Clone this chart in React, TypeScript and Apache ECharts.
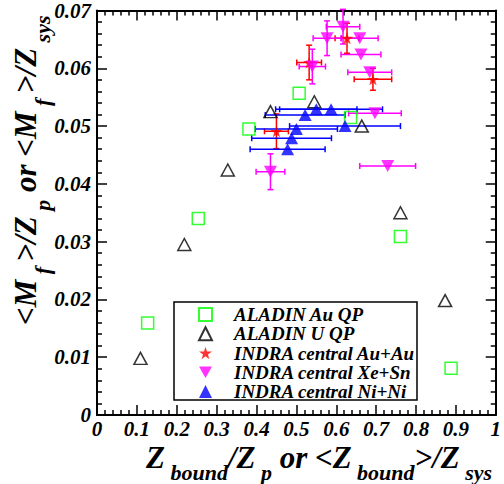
import React, { useEffect, useRef } from "react";
import * as echarts from "echarts";

// ---- data ----
const aladinAuX = [0.127, 0.254, 0.381, 0.507, 0.636, 0.761, 0.888];
const aladinAuY = [0.0159, 0.034, 0.0495, 0.0557, 0.0515, 0.0309, 0.0081];

const aladinUX = [0.109, 0.219, 0.328, 0.435, 0.545, 0.664, 0.761, 0.873];
const aladinUY = [0.0098, 0.0295, 0.0424, 0.0525, 0.0542, 0.05, 0.035, 0.0198];

const auX = [0.45, 0.532, 0.627, 0.692];
const auY = [0.0491, 0.061, 0.0652, 0.0581];
const auXErr = [0.03, 0.031, 0.03, 0.047];
const auYErr = [0.003, 0.003, 0.0026, 0.0019];

const xeX = [0.435, 0.54, 0.577, 0.617, 0.659, 0.662, 0.684, 0.697, 0.729];
const xeY = [0.0421, 0.0603, 0.0652, 0.0672, 0.0652, 0.0624, 0.0593, 0.0522, 0.0431];
const xeXErr = [0.036, 0.033, 0.035, 0.042, 0.046, 0.05, 0.055, 0.066, 0.07];
const xeYErr = [0.0031, 0.003, 0.003, 0.003, 0, 0, 0, 0, 0];

const niX = [0.478, 0.488, 0.5, 0.522, 0.55, 0.587, 0.622];
const niY = [0.046, 0.0479, 0.0495, 0.0519, 0.0529, 0.0529, 0.05];
const niXErr = [0.094, 0.1, 0.103, 0.1, 0.102, 0.129, 0.139];
const niYErr = [0, 0, 0, 0, 0, 0, 0];

const legendNames = [
  "ALADIN Au QP",
  "ALADIN U QP",
  "INDRA central Au+Au",
  "INDRA central Xe+Sn",
  "INDRA central Ni+Ni",
];

const FONT = "Liberation Serif";
const STAR = "path://M50,0 L61,35 L98,35 L68,57 L79,91 L50,70 L21,91 L32,57 L2,35 L39,35 Z";
const DOWN_TRI = "path://M0,0 L10,0 L5,9 Z";

function pts(xs: number[], ys: number[]) {
  return xs.map((x, i) => [x, ys[i]]);
}
function errPts(xs: number[], ys: number[], xe: number[], ye: number[]) {
  return xs.map((x, i) => [x, ys[i], xe[i], ye[i]]);
}

function errSeries(name: string, data: number[][], color: string) {
  return {
    type: "custom",
    name,
    data,
    encode: { x: 0, y: 1 },
    clip: false,
    renderItem: (params: any, api: any) => {
      const x = api.value(0);
      const y = api.value(1);
      const xe = api.value(2);
      const ye = api.value(3);
      const cap = 3;
      const st = { stroke: color, lineWidth: 1.5 };
      const children: any[] = [];
      if (xe > 0) {
        const a = api.coord([x - xe, y]);
        const b = api.coord([x + xe, y]);
        children.push({ type: "line", shape: { x1: a[0], y1: a[1], x2: b[0], y2: b[1] }, style: st });
        children.push({ type: "line", shape: { x1: a[0], y1: a[1] - cap, x2: a[0], y2: a[1] + cap }, style: st });
        children.push({ type: "line", shape: { x1: b[0], y1: b[1] - cap, x2: b[0], y2: b[1] + cap }, style: st });
      }
      if (ye > 0) {
        const a = api.coord([x, y - ye]);
        const b = api.coord([x, y + ye]);
        children.push({ type: "line", shape: { x1: a[0], y1: a[1], x2: b[0], y2: b[1] }, style: st });
        children.push({ type: "line", shape: { x1: a[0] - cap, y1: a[1], x2: a[0] + cap, y2: a[1] }, style: st });
        children.push({ type: "line", shape: { x1: b[0] - cap, y1: b[1], x2: b[0] + cap, y2: b[1] }, style: st });
      }
      return { type: "group", children };
    },
    z: 2,
  };
}

export default function App() {
  const ref = useRef<HTMLDivElement>(null);
  useEffect(() => {
    if (!ref.current) return;
    const chart = echarts.init(ref.current, undefined, { renderer: "svg" });
    const tickLabel = {
      fontFamily: FONT,
      fontWeight: "bold" as const,
      fontStyle: "italic" as const,
      fontSize: 21,
      lineHeight: 17,
      color: "#000",
    };
    const axisLine = { show: true, onZero: false, lineStyle: { color: "#000", width: 2 } };
    const axisTick = { show: true, inside: true, length: 10, lineStyle: { color: "#000", width: 1.5 } };
    const minorTick = { show: true, splitNumber: 5, length: 5, lineStyle: { color: "#000", width: 1.5 } };

    const m = { fontFamily: FONT, fontWeight: "bold", fontStyle: "italic", fontSize: 31, color: "#000", lineHeight: 33, verticalAlign: "top" };
    const s = {
      fontFamily: FONT, fontWeight: "bold", fontStyle: "italic", fontSize: 22, color: "#000",
      lineHeight: 30, verticalAlign: "top", padding: [19, 0, 0, 0],
    };
    const sy = { ...s, padding: [21, 0, 0, 0] };

    chart.setOption({
      animation: false,
      backgroundColor: "#fff",
      grid: { left: 97, right: 5, top: 9, bottom: 69, containLabel: false },
      xAxis: [
        {
          type: "value", min: 0, max: 1, interval: 0.1, position: "bottom",
          axisLine, axisTick, minorTick, splitLine: { show: false },
          axisLabel: { ...tickLabel, margin: 5 },
        },
        {
          type: "value", min: 0, max: 1, interval: 0.1, position: "top",
          axisLine, axisTick, minorTick, splitLine: { show: false },
          axisLabel: { show: false },
        },
      ],
      yAxis: [
        {
          type: "value", min: 0, max: 0.07, interval: 0.01, position: "left",
          axisLine, axisTick, minorTick, splitLine: { show: false },
          axisLabel: { ...tickLabel, margin: 6 },
        },
        {
          type: "value", min: 0, max: 0.07, interval: 0.01, position: "right",
          axisLine, axisTick, minorTick, splitLine: { show: false },
          axisLabel: { show: false },
        },
      ],
      legend: {
        data: legendNames,
        orient: "vertical",
        left: 198,
        top: 305,
        padding: 0,
        itemGap: 0.25,
        itemWidth: 13,
        itemHeight: 13,
        selectedMode: false,
        textStyle: {
          fontFamily: FONT, fontWeight: "bold", fontStyle: "italic", fontSize: 19, color: "#000",
          lineHeight: 16, padding: [0, 0, 0, 17],
        },
      },
      graphic: [
        {
          type: "rect",
          shape: { x: 174, y: 302, width: 243, height: 98 },
          style: { fill: "transparent", stroke: "#000", lineWidth: 1.5 },
          z: 1,
        },
        {
          type: "text",
          x: 146,
          y: 442,
          style: {
            text: "{m|Z}{s| bound}{m|/Z}{s| p}{m| or <Z}{s| bound}{m|>/Z}{s| sys}",
            rich: { m, s },
            align: "left",
            verticalAlign: "top",
          },
        },
        {
          type: "text",
          x: 10,
          y: 325,
          rotation: Math.PI / 2,
          style: {
            text: "{m|<M}{s| f }{m|>/Z}{s| p}{m| or <M}{s| f }{m|>/Z}{s| sys}",
            rich: { m, s: sy },
            align: "left",
            verticalAlign: "top",
          },
        },
      ],
      series: [
        {
          type: "scatter", name: legendNames[0], data: pts(aladinAuX, aladinAuY),
          symbol: "rect", symbolSize: 12,
          itemStyle: { color: "transparent", borderColor: "#00ff00", borderWidth: 1.5 },
          z: 3,
        },
        {
          type: "scatter", name: legendNames[1], data: pts(aladinUX, aladinUY),
          symbol: "triangle", symbolSize: [13, 12],
          itemStyle: { color: "transparent", borderColor: "#000", borderWidth: 1.5 },
          z: 3,
        },
        errSeries("errAu", errPts(auX, auY, auXErr, auYErr), "#ff0000"),
        {
          type: "scatter", name: legendNames[2], data: pts(auX, auY),
          symbol: STAR, symbolSize: 12,
          itemStyle: { color: "#ff0000" },
          z: 4,
        },
        errSeries("errXe", errPts(xeX, xeY, xeXErr, xeYErr), "#ff00ff"),
        {
          type: "scatter", name: legendNames[3], data: pts(xeX, xeY),
          symbol: DOWN_TRI, symbolSize: [13, 12],
          itemStyle: { color: "#ff00ff" },
          z: 4,
        },
        errSeries("errNi", errPts(niX, niY, niXErr, niYErr), "#0000ff"),
        {
          type: "scatter", name: legendNames[4], data: pts(niX, niY),
          symbol: "triangle", symbolSize: [13, 12],
          itemStyle: { color: "#0000ff" },
          z: 4,
        },
      ],
    });
    return () => chart.dispose();
  }, []);
  return (
    <div
      ref={ref}
      style={{ position: "fixed", left: 0, top: 0, width: 504, height: 484, background: "#fff" }}
    />
  );
}
